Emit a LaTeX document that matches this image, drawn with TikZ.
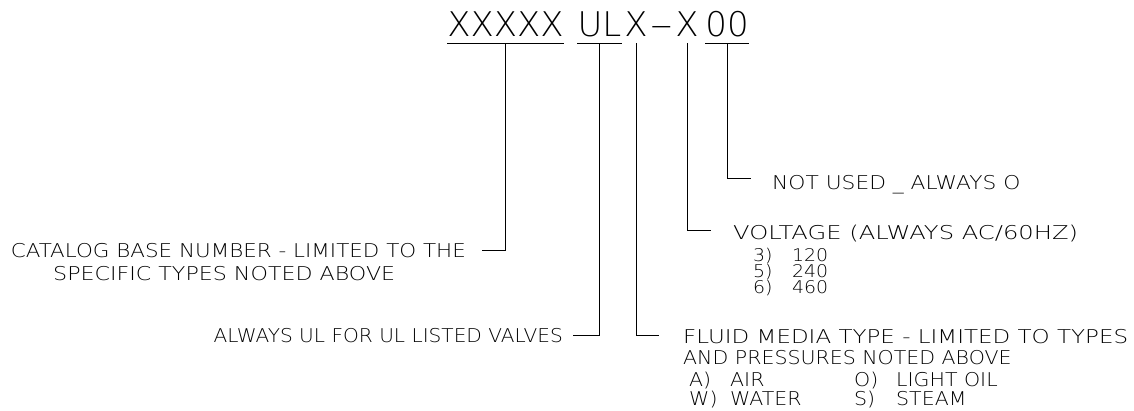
\documentclass[tikz,border=0pt]{standalone}
\usepackage{fontspec}
\newfontfamily\cadfont{DejaVu Sans ExtraLight}[FakeStretch=1.08]
\newfontfamily\codefont{DejaVu Sans ExtraLight}
\begin{document}
\begin{tikzpicture}[x=1pt,y=-1pt,
  code/.style={font=\codefont\fontsize{34}{34}\selectfont, inner xsep=0pt, inner ysep=7pt, anchor=base},
  lbl/.style={font=\cadfont\fontsize{19}{19}\selectfont, inner sep=0pt, anchor=base west},
  lblr/.style={lbl, anchor=base east},
  small/.style={lbl, font=\cadfont\fontsize{17.5}{17.5}\selectfont},
  lead/.style={line width=1pt, black},
  uline/.style={line width=1pt, black}]
\useasboundingbox (0,0) rectangle (1134,410);

% code segments
\node[code] (xxxxx) at (505.5,36) {XXXXX};
\node[code] (ul)    at (599.5,36) {UL};
\node[code] (x1)    at (636,36)   {X};
\node[code] (dash)  at (661.5,36) {\scalebox{2}[1]{-}};
\node[code] (x2)    at (687,36)   {X};
\node[code] (zz)    at (727,36)   {00};

\draw[uline] (xxxxx.south west) -- (xxxxx.south east);
\draw[uline] (ul.south west) -- (ul.south east);
\draw[uline] (zz.south west) -- (zz.south east);

% labels
\node[lbl] (notused) at (772,189) {\scalebox{1.06}[1]{NOT USED \_ ALWAYS O}};
\node[lbl] (voltage) at (733,239) {\scalebox{1.18}[1]{VOLTAGE (ALWAYS AC/60HZ)}};
\node[small] (v3) at (753,261) {\makebox[39pt][l]{3)}120};
\node[small] (v5) at (753,277) {\makebox[39pt][l]{5)}240};
\node[small] (v6) at (753,293) {\makebox[39pt][l]{6)}460};
\node[lblr] (catalog) at (466,257) {\scalebox{1.045}[1]{CATALOG BASE NUMBER - LIMITED TO THE}};
\node[lbl] (specific) at (53,280.5) {\scalebox{1.08}[1]{SPECIFIC TYPES NOTED ABOVE}};
\node[lblr] (always) at (563,342) {\scalebox{0.98}[1]{ALWAYS UL FOR UL LISTED VALVES}};
\node[lbl] (fluid) at (683,343) {\scalebox{1.12}[1]{FLUID MEDIA TYPE - LIMITED TO TYPES}};
\node[lbl] (press) at (683,364) {AND PRESSURES NOTED ABOVE};
\node[lbl] (fa) at (689,386.5) {\makebox[41pt][l]{A)}\makebox[124pt][l]{AIR}\makebox[42pt][l]{O)}LIGHT OIL};
\node[lbl] (fw) at (689,405.5) {\makebox[41pt][l]{W)}\makebox[124pt][l]{WATER}\makebox[42pt][l]{S)}STEAM};

% leader ends
\coordinate (ecat) at (482,250);
\coordinate (eul) at (573,335);
\coordinate (efl) at (659,335);
\coordinate (evo) at (711,230);
\coordinate (enu) at (751,178);

\draw[lead] (xxxxx.south) |- (ecat);
\draw[lead] (ul.south) |- (eul);
\draw[lead] (x1.south) |- (efl);
\draw[lead] (x2.south) |- (evo);
\draw[lead] (zz.south) |- (enu);
\end{tikzpicture}
\end{document}
